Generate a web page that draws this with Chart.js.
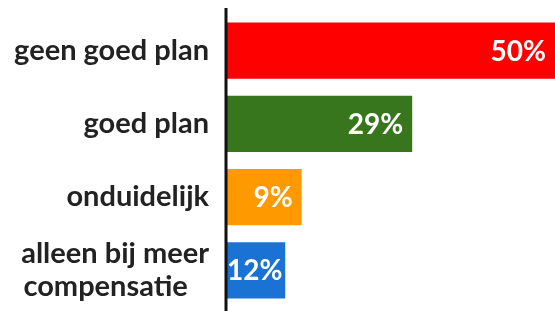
<!DOCTYPE html>
<html lang="nl">
<head>
    <meta charset="UTF-8">
    <title>Plan</title>
    <script src="https://cdn.jsdelivr.net/npm/chart.js"></script>
    <style>
        html, body { margin: 0; padding: 0; background: #fff; }
        #wrap { width: 555px; height: 311px; }
    </style>
</head>
<body>
    <div id="wrap"><canvas id="planChart"></canvas></div>

    <script>
        // second line of the last label is padded so it reads left-aligned like the source
        const categories = ['geen goed plan', 'goed plan', 'onduidelijk', ['alleen bij meer', 'compensatie\u00a0\u00a0\u00a0']];
        // bar lengths as drawn in the picture (the source bars are not exactly proportional)
        const barLengths = [50, 28.3, 11.5, 9.0];
        // percentages printed on the bars
        const shownPercent = ['50%', '29%', '9%', '12%'];
        const barColors = ['#ff0000', '#38761d', '#ff9900', '#1a73d4'];

        const labelFont = 'bold 28px Lato';

        // white value labels at the end of each bar
        const barText = {
            id: 'barText',
            afterDatasetsDraw(chart) {
                const ctx = chart.ctx;
                const meta = chart.getDatasetMeta(0);
                ctx.save();
                ctx.font = labelFont;
                ctx.fillStyle = '#ffffff';
                ctx.textBaseline = 'middle';
                meta.data.forEach((bar, i) => {
                    const txt = shownPercent[i];
                    const w = ctx.measureText(txt).width;
                    let left = bar.x - 9 - w;
                    if (left < bar.base + 1) left = bar.base + 1;
                    ctx.fillText(txt, left, bar.y + 1);
                });
                ctx.restore();
            }
        };

        // black axis line running almost the full height
        const axisLine = {
            id: 'axisLine',
            afterDraw(chart) {
                const ctx = chart.ctx;
                const x = chart.chartArea.left;
                ctx.save();
                ctx.strokeStyle = '#111';
                ctx.lineWidth = 3;
                ctx.beginPath();
                ctx.moveTo(x, 8);
                ctx.lineTo(x, chart.height);
                ctx.stroke();
                ctx.restore();
            }
        };

        new Chart(document.getElementById('planChart'), {
            type: 'bar',
            data: {
                labels: categories,
                datasets: [{
                    data: barLengths,
                    backgroundColor: barColors,
                    barPercentage: 0.765,
                    categoryPercentage: 1
                }]
            },
            options: {
                indexAxis: 'y',
                responsive: true,
                maintainAspectRatio: false,
                animation: false,
                layout: { padding: { top: 14, bottom: 4, left: 0, right: 0 } },
                plugins: {
                    legend: { display: false },
                    tooltip: { enabled: false }
                },
                scales: {
                    x: { display: false, min: 0, max: 50 },
                    y: {
                        afterFit(scale) {
                            scale.width = 226;
                            scale.paddingTop = 0;
                            scale.paddingBottom = 0;
                        },
                        border: { display: false },
                        grid: { display: false },
                        ticks: {
                            color: '#222',
                            padding: 9,
                            font: { family: 'Lato', weight: 'bold', size: 29, lineHeight: 1.15 }
                        }
                    }
                }
            },
            plugins: [barText, axisLine]
        });
    </script>
</body>
</html>
